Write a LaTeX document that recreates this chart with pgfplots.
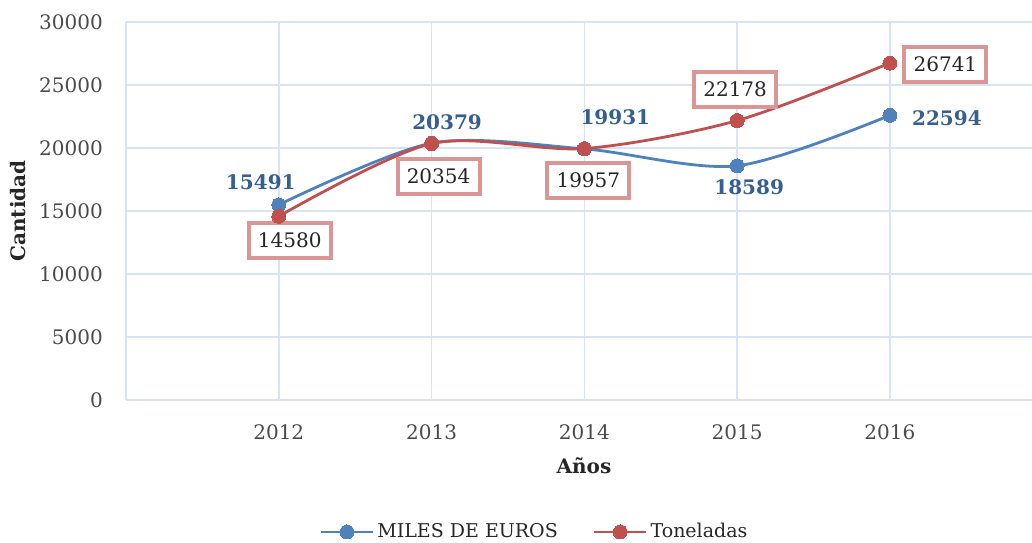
\documentclass[border=0pt]{standalone}
\usepackage{pgfplots}
\pgfplotsset{compat=1.18}
\usepackage{fontspec}
\setmainfont{DejaVu Serif}
\definecolor{serA}{HTML}{4F81BD}
\definecolor{serB}{HTML}{C0504D}
\definecolor{labA}{HTML}{365F91}
\definecolor{boxB}{HTML}{D99694}
\definecolor{gridc}{HTML}{DAE3F3}
\definecolor{tickc}{HTML}{4A4A4A}
\definecolor{txtc}{HTML}{262626}
\begin{document}
\fontsize{20}{24}\selectfont
\begin{tikzpicture}[x=1pt,y=1pt,font=\fontsize{20}{24}\selectfont]
\useasboundingbox (0,0) rectangle (1032,542);
\begin{axis}[
  at={(126pt,142pt)}, anchor=south west,
  scale only axis, width=906pt, height=378pt,
  xmin=2011, xmax=2016.93, ymin=0, ymax=30000,
  xtick={2012,2013,2014,2015,2016},
  ytick={0,5000,10000,15000,20000,25000,30000},
  scaled y ticks=false,
  yticklabel={\pgfmathprintnumber[fixed,precision=0,1000 sep={}]{\tick}},
  major tick length=0pt,
  grid=major,
  grid style={draw=gridc, line width=1.5pt},
  axis x line*=bottom, axis y line*=left,
  axis line style={draw=gridc, line width=1.5pt},
  /pgf/number format/assume math mode=true,
  /pgf/number format/1000 sep={},
  ticklabel style={text=tickc, font=\fontsize{20}{24}\selectfont},
  yticklabel style={anchor=east, inner sep=0pt, xshift=-23pt},
  xticklabel style={anchor=north, inner sep=0pt, yshift=-24pt},
  clip=false,
  legend columns=2,
  legend style={at={(0.4514,-0.349)}, anchor=center, draw=none, fill=none,
    font=\fontsize{19}{23}\selectfont, text=txtc,
    /tikz/every even column/.append style={column sep=32pt},
    nodes={inner sep=3pt}},
  legend image code/.code={\draw[mark repeat=2,mark phase=2,#1] plot coordinates {(0pt,0pt) (26pt,0pt) (52pt,0pt)};},
]
\addplot[serA, line width=2.8pt, smooth, mark=*, mark size=7pt, mark options={fill=serA, draw=serA, line width=0pt}]
  coordinates {(2012,15491) (2013,20379) (2014,19931) (2015,18589) (2016,22594)};
\addlegendentry{MILES DE EUROS}
\addplot[serB, line width=2.8pt, smooth, mark=*, mark size=7pt, mark options={fill=serB, draw=serB, line width=0pt}]
  coordinates {(2012,14580) (2013,20354) (2014,19957) (2015,22178) (2016,26741)};
\addlegendentry{Toneladas}

\tikzset{bl/.style={text=labA, font=\bfseries\fontsize{20}{24}\selectfont, inner sep=0pt, anchor=center},
         rb/.style={draw=boxB, line width=4pt, fill=white, text=txtc, inner sep=0pt, minimum width=82pt, minimum height=35pt, anchor=center}}
\node[bl, xshift=-18pt, yshift=23pt] at (axis cs:2012,15491) {15491};
\node[bl, xshift=15.5pt, yshift=21.5pt] at (axis cs:2013,20379) {20379};
\node[bl, xshift=31pt, yshift=32pt] at (axis cs:2014,19931) {19931};
\node[bl, xshift=12pt, yshift=-21pt] at (axis cs:2015,18589) {18589};
\node[bl, xshift=57pt, yshift=-3pt] at (axis cs:2016,22594) {22594};

\node[rb, xshift=11pt, yshift=-24pt] at (axis cs:2012,14580) {14580};
\node[rb, xshift=7pt, yshift=-32.5pt] at (axis cs:2013,20354) {20354};
\node[rb, xshift=4pt, yshift=-31.5pt] at (axis cs:2014,19957) {19957};
\node[rb, xshift=-2pt, yshift=31pt] at (axis cs:2015,22178) {22178};
\node[rb, xshift=55.5pt, yshift=-1.5pt] at (axis cs:2016,26741) {26741};
\end{axis}
\node[rotate=90, font=\bfseries\fontsize{20}{24}\selectfont, text=txtc, inner sep=0pt] at (18,331) {Cantidad};
\node[font=\bfseries\fontsize{20}{24}\selectfont, text=txtc, inner sep=0pt] at (584,76) {Años};
\end{tikzpicture}
\end{document}
